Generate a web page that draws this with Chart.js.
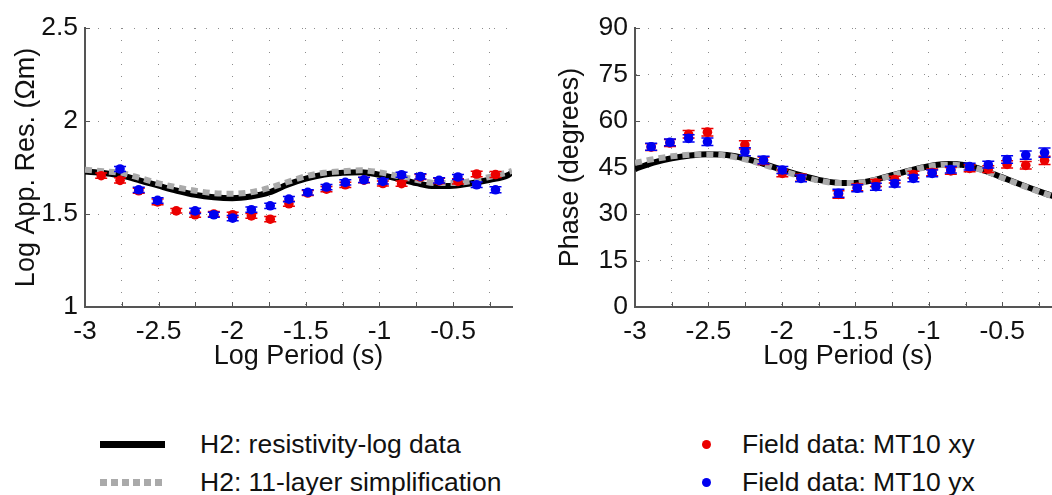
<!DOCTYPE html>
<html>
<head>
<meta charset="utf-8">
<script src="https://cdn.jsdelivr.net/npm/chart.js@4"></script>
<style>
  html, body { margin: 0; padding: 0; background: #fff; }
  body { width: 1052px; height: 495px; overflow: hidden; position: relative;
         font-family: "Liberation Sans", Arial, sans-serif; color: #111; }
  #resChart { position: absolute; left: 0; top: 0; }
  #phaseChart { position: absolute; left: 530px; top: 0; }
  .lg-sample { position: absolute; }
  .lg-text { position: absolute; font-size: 26.5px; line-height: 30px; white-space: nowrap; }
</style>
</head>
<body>
<canvas id="resChart" width="530" height="390"></canvas>
<canvas id="phaseChart" width="540" height="390"></canvas>
<div id="legend"></div>

<script>
// periods of the field data (log10 s)
const periods = [-2.89, -2.762, -2.635, -2.507, -2.38, -2.252, -2.125, -1.997, -1.87, -1.742, -1.615,
                 -1.487, -1.36, -1.232, -1.105, -0.977, -0.85, -0.722, -0.595, -0.467, -0.34, -0.212];

// log apparent resistivity, field data
const resXY = [1.706, 1.681, 1.625, 1.565, 1.517, 1.496, 1.500, 1.496, 1.490, 1.472, 1.555,
               1.613, 1.634, 1.657, 1.682, 1.664, 1.663, 1.699, 1.678, 1.675, 1.715, 1.712];
const resYX = [null, 1.742, 1.630, 1.573, null, 1.517, 1.496, 1.478, 1.523, 1.544, 1.580,
               1.616, 1.645, 1.670, 1.684, 1.675, 1.711, 1.702, 1.681, 1.699, 1.657, 1.630];
const resErrXY = [0.014, 0.014, 0.014, 0.015, 0.012, 0.014, 0.014, 0.014, 0.013, 0.014, 0.014,
                  0.014, 0.014, 0.014, 0.014, 0.014, 0.014, 0.014, 0.014, 0.014, 0.015, 0.016];
const resErrYX = [0.014, 0.014, 0.014, 0.015, 0.014, 0.014, 0.014, 0.014, 0.014, 0.014, 0.014,
                  0.014, 0.014, 0.014, 0.014, 0.014, 0.014, 0.014, 0.014, 0.014, 0.015, 0.016];

// phase, field data (degrees)
const phaseXY = [51.6, 52.9, 55.7, 56.4, null, 52.3, 47.2, 43.1, 41.7, null, 36.3,
                 38.6, 40.0, 41.1, 42.7, 43.4, 43.9, 44.7, 44.5, 46.0, 45.7, 47.3];
const phaseYX = [51.7, 53.1, 54.4, 53.3, null, 50.1, 47.4, 44.2, 41.5, null, 36.7,
                 38.3, 38.8, 39.8, 41.5, 43.1, 44.3, 45.3, 45.9, 47.6, 49.0, 49.8];
const phaseErrXY = [1.1, 1.1, 1.2, 1.2, 1.2, 1.3, 1.2, 1.1, 1.1, 1.2, 1.2,
                    1.1, 1.1, 1.1, 1.1, 1.1, 1.1, 1.1, 1.1, 1.2, 1.2, 1.3];
const phaseErrYX = [1.1, 1.1, 1.2, 1.2, 1.2, 1.3, 1.2, 1.1, 1.1, 1.2, 1.3,
                    1.1, 1.1, 1.1, 1.1, 1.1, 1.1, 1.1, 1.1, 1.2, 1.3, 1.5];

// model curves
const modelPeriods = [-3, -2.875, -2.75, -2.625, -2.5, -2.375, -2.25, -2.125, -2, -1.875, -1.75, -1.625,
                      -1.5, -1.375, -1.25, -1.125, -1, -0.875, -0.75, -0.625, -0.5, -0.375, -0.25, -0.125, -0.1];
const resLogModel = [1.729, 1.720, 1.706, 1.680, 1.652, 1.625, 1.603, 1.590, 1.585, 1.594, 1.616, 1.658,
                     1.690, 1.712, 1.722, 1.725, 1.711, 1.690, 1.666, 1.650, 1.652, 1.665, 1.684, 1.710, 1.724];
const resSimpModel = [1.738, 1.730, 1.720, 1.693, 1.665, 1.643, 1.625, 1.612, 1.609, 1.617, 1.640, 1.672,
                      1.703, 1.722, 1.730, 1.735, 1.724, 1.704, 1.684, 1.667, 1.666, 1.678, 1.700, 1.725, 1.732];
const phaseLogModel = [44.5, 46.6, 48.0, 48.9, 49.3, 49.0, 47.9, 46.2, 44.3, 42.5, 41.0, 40.1,
                       40.0, 40.9, 42.5, 44.1, 45.4, 46.1, 45.7, 44.1, 41.8, 39.5, 37.3, 35.3, 34.9];
const phaseSimpModel = [46.5, 47.7, 48.6, 49.1, 49.2, 48.8, 47.6, 45.9, 44.0, 42.2, 40.8, 40.0,
                        40.0, 40.9, 42.4, 44.0, 45.3, 45.9, 45.5, 44.0, 41.7, 39.4, 37.2, 35.2, 34.8];

// axis ticks
const periodTicks = [-3, -2.75, -2.5, -2.25, -2, -1.75, -1.5, -1.25, -1, -0.75, -0.5, -0.25];
const resTicks = [1, 1.5, 2, 2.5];
const phaseTicks = [0, 15, 30, 45, 60, 75, 90];

const labels = {
  logData: "H2: resistivity-log data",
  simp: "H2: 11-layer simplification",
  xy: "Field data: MT10 xy",
  yx: "Field data: MT10 yx"
};

const RED = "rgb(235,0,0)";
const BLUE = "rgb(0,0,240)";
const GREY = "rgb(170,170,170)";

Chart.defaults.font.family = '"Liberation Sans", Arial, sans-serif';
Chart.defaults.color = "#111";

function pts(xs, ys) {
  return xs.map((x, i) => ({ x: x, y: ys[i] }));
}

// vertical error bars with caps, drawn just under each point dataset
const errorBars = {
  id: "errorBars",
  beforeDatasetDraw(chart, args) {
    const ds = chart.data.datasets[args.index];
    if (!ds.errors) return;
    const ctx = chart.ctx, x = chart.scales.x, y = chart.scales.y;
    ctx.save();
    ctx.strokeStyle = ds.backgroundColor;
    ctx.lineWidth = 1.5;
    ds.data.forEach((p, i) => {
      if (p.y == null) return;
      const px = x.getPixelForValue(p.x);
      const y1 = y.getPixelForValue(p.y + ds.errors[i]);
      const y2 = y.getPixelForValue(p.y - ds.errors[i]);
      ctx.beginPath();
      ctx.moveTo(px, y1); ctx.lineTo(px, y2);
      ctx.moveTo(px - 6, y1); ctx.lineTo(px + 6, y1);
      ctx.moveTo(px - 6, y2); ctx.lineTo(px + 6, y2);
      ctx.stroke();
    });
    ctx.restore();
  }
};

// matlab style inward tick marks
const innerTicks = {
  id: "innerTicks",
  beforeDatasetsDraw(chart) {
    const ctx = chart.ctx, x = chart.scales.x, y = chart.scales.y, a = chart.chartArea;
    ctx.save();
    ctx.strokeStyle = "#555";
    ctx.lineWidth = 1;
    ctx.beginPath();
    x.ticks.forEach(t => {
      const px = Math.round(x.getPixelForValue(t.value)) + 0.5;
      ctx.moveTo(px, a.bottom); ctx.lineTo(px, a.bottom - 5);
    });
    y.ticks.forEach(t => {
      const py = Math.round(y.getPixelForValue(t.value)) + 0.5;
      ctx.moveTo(a.left, py); ctx.lineTo(a.left + 5, py);
    });
    ctx.stroke();
    ctx.restore();
  }
};

function makePanel(id, o) {
  const gridOpts = { color: "rgba(0,0,0,0.45)", lineWidth: 1, drawTicks: false };
  const borderOpts = { display: true, color: "#555", width: 2, dash: [1, 11] };
  return new Chart(document.getElementById(id), {
    type: "scatter",
    data: {
      datasets: [
        { label: labels.logData, type: "line", data: pts(modelPeriods, o.logModel), borderColor: "#000",
          borderWidth: 6, pointRadius: 0, cubicInterpolationMode: "monotone", order: 4 },
        { label: labels.simp, type: "line", data: pts(modelPeriods, o.simpModel), borderColor: GREY,
          borderWidth: 6, borderDash: [7, 5], borderCapStyle: "butt", pointRadius: 0,
          cubicInterpolationMode: "monotone", order: 3 },
        { label: labels.xy, data: pts(periods, o.xy), errors: o.errXY, backgroundColor: RED,
          borderColor: RED, pointRadius: 4.8, borderWidth: 0, order: 2 },
        { label: labels.yx, data: pts(periods, o.yx), errors: o.errYX, backgroundColor: BLUE,
          borderColor: BLUE, pointRadius: 4.8, borderWidth: 0, order: 1 }
      ]
    },
    options: {
      responsive: false,
      animation: false,
      layout: { padding: { top: 28, right: o.padRight, left: 0, bottom: 0 } },
      plugins: { legend: { display: false }, tooltip: { enabled: false } },
      scales: {
        x: {
          type: "linear", min: -3, max: -0.1,
          afterBuildTicks: s => { s.ticks = periodTicks.map(v => ({ value: v })); },
          afterFit: s => { s.height = 83; },
          grid: gridOpts, border: borderOpts,
          ticks: { autoSkip: false, maxRotation: 0, padding: 9, font: { size: 26.5 },
                   callback: v => (Number.isInteger(v * 2) ? String(v) : "") },
          title: { display: true, text: "Log Period (s)", font: { size: 27 },
                   padding: { top: 0, bottom: 17 } }
        },
        y: {
          type: "linear", min: o.yMin, max: o.yMax,
          afterBuildTicks: s => { s.ticks = o.yTicks.map(v => ({ value: v })); },
          afterFit: s => { s.width = o.yWidth; },
          grid: gridOpts, border: borderOpts,
          ticks: { padding: 7, font: { size: 26.5 }, callback: v => String(v) },
          title: { display: true, text: o.yTitle, font: { size: 27 },
                   padding: { top: o.yTitlePad, bottom: 0 } }
        }
      }
    },
    plugins: [errorBars, innerTicks]
  });
}

const resChart = makePanel("resChart", {
  logModel: resLogModel, simpModel: resSimpModel, xy: resXY, yx: resYX,
  errXY: resErrXY, errYX: resErrYX, yMin: 1, yMax: 2.5, yTicks: resTicks,
  yTitle: "Log App. Res. (\u03A9m)", yWidth: 85, yTitlePad: 10, padRight: 18
});

const phaseChart = makePanel("phaseChart", {
  logModel: phaseLogModel, simpModel: phaseSimpModel, xy: phaseXY, yx: phaseYX,
  errXY: phaseErrXY, errYX: phaseErrYX, yMin: 0, yMax: 90, yTicks: phaseTicks,
  yTitle: "Phase (degrees)", yWidth: 105, yTitlePad: 24, padRight: 9
});

// legend below both panels, built from the dataset labels
const legend = document.getElementById("legend");
const ds = resChart.data.datasets;
const items = [
  { ds: ds[0], sample: "line", left: 100, top: 444, textLeft: 200 },
  { ds: ds[1], sample: "dash", left: 100, top: 482, textLeft: 200 },
  { ds: ds[2], sample: "dot", left: 706, top: 444, textLeft: 742 },
  { ds: ds[3], sample: "dot", left: 706, top: 482, textLeft: 742 }
];
items.forEach(it => {
  const s = document.createElement("div");
  s.className = "lg-sample";
  if (it.sample === "line") {
    Object.assign(s.style, { left: it.left + "px", top: (it.top - 3.5) + "px", width: "65px", height: "7px",
                             background: it.ds.borderColor });
  } else if (it.sample === "dash") {
    Object.assign(s.style, { left: it.left + "px", top: (it.top - 3.5) + "px", width: "65px", height: "7px",
                             background: "repeating-linear-gradient(to right, " + GREY + " 0 7px, transparent 7px 11px)" });
  } else {
    Object.assign(s.style, { left: (it.left - 4.5) + "px", top: (it.top - 4.5) + "px", width: "9px", height: "9px",
                             borderRadius: "50%", background: it.ds.backgroundColor });
  }
  legend.appendChild(s);
  const t = document.createElement("div");
  t.className = "lg-text";
  t.textContent = it.ds.label;
  Object.assign(t.style, { left: it.textLeft + "px", top: (it.top - 15) + "px" });
  legend.appendChild(t);
});
</script>
</body>
</html>
